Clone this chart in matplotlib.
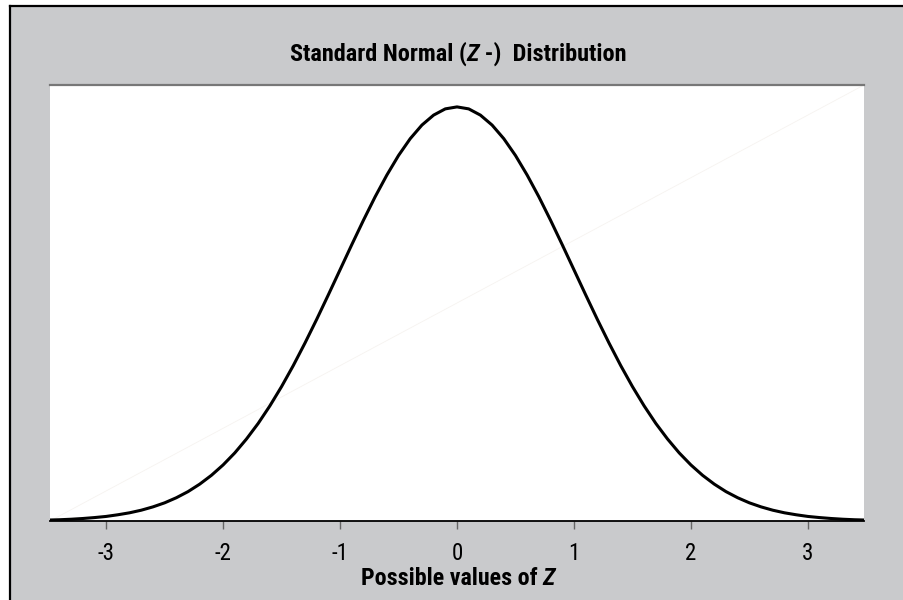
import os
import matplotlib
matplotlib.use("Agg")
import matplotlib.pyplot as plt
from matplotlib import font_manager
from matplotlib.font_manager import FontProperties
from matplotlib.patches import Rectangle
from matplotlib.lines import Line2D

# ---- data ----
z_values = [-3.5, -3.4, -3.3, -3.2, -3.1, -3.0, -2.9, -2.8, -2.7, -2.6, -2.5,
            -2.4, -2.3, -2.2, -2.1, -2.0, -1.9, -1.8, -1.7, -1.6, -1.5,
            -1.4, -1.3, -1.2, -1.1, -1.0, -0.9, -0.8, -0.7, -0.6, -0.5,
            -0.4, -0.3, -0.2, -0.1, 0.0, 0.1, 0.2, 0.3, 0.4, 0.5,
            0.6, 0.7, 0.8, 0.9, 1.0, 1.1, 1.2, 1.3, 1.4, 1.5,
            1.6, 1.7, 1.8, 1.9, 2.0, 2.1, 2.2, 2.3, 2.4, 2.5,
            2.6, 2.7, 2.8, 2.9, 3.0, 3.1, 3.2, 3.3, 3.4, 3.5]
density = [0.0009, 0.0012, 0.0017, 0.0024, 0.0033, 0.0044, 0.0060, 0.0079, 0.0104, 0.0136, 0.0175,
           0.0224, 0.0283, 0.0355, 0.0440, 0.0540, 0.0656, 0.0790, 0.0940, 0.1109, 0.1295,
           0.1497, 0.1714, 0.1942, 0.2179, 0.2420, 0.2661, 0.2897, 0.3123, 0.3332, 0.3521,
           0.3683, 0.3814, 0.3910, 0.3970, 0.3989, 0.3970, 0.3910, 0.3814, 0.3683, 0.3521,
           0.3332, 0.3123, 0.2897, 0.2661, 0.2420, 0.2179, 0.1942, 0.1714, 0.1497, 0.1295,
           0.1109, 0.0940, 0.0790, 0.0656, 0.0540, 0.0440, 0.0355, 0.0283, 0.0224, 0.0175,
           0.0136, 0.0104, 0.0079, 0.0060, 0.0044, 0.0033, 0.0024, 0.0017, 0.0012, 0.0009]
tick_values = [-3, -2, -1, 0, 1, 2, 3]
tick_labels = ["-3", "-2", "-1", "0", "1", "2", "3"]
title_parts = [("Standard Normal (", False), ("Z", True), (" -)  Distribution", False)]
xlabel_parts = [("Possible values of ", False), ("Z", True)]

# ---- fonts: prefer a condensed sans ----
files = [f.fname for f in font_manager.fontManager.ttflist]


def pick(name):
    for fn in files:
        if os.path.basename(fn).lower() == name.lower():
            return fn
    return None


sets = [
    ("RobotoCondensed-Regular.ttf", "RobotoCondensed-Bold.ttf", "RobotoCondensed-BoldItalic.ttf"),
    ("LiberationSansNarrow-Regular.ttf", "LiberationSansNarrow-Bold.ttf", "LiberationSansNarrow-BoldItalic.ttf"),
    ("DejaVuSansCondensed.ttf", "DejaVuSansCondensed-Bold.ttf", "DejaVuSansCondensed-BoldOblique.ttf"),
    ("LiberationSans-Regular.ttf", "LiberationSans-Bold.ttf", "LiberationSans-BoldItalic.ttf"),
]
reg_f = bold_f = boldit_f = None
for r, b, bi in sets:
    fr, fb, fbi = pick(r), pick(b), pick(bi)
    if fr and fb and fbi:
        reg_f, bold_f, boldit_f = fr, fb, fbi
        break


def fp(fname, size):
    if fname:
        return FontProperties(fname=fname, size=size)
    return FontProperties(family="DejaVu Sans", size=size)


W, H = 904, 600
fig = plt.figure(figsize=(W / 100, H / 100), dpi=100)
fig.patch.set_facecolor("white")

gray = "#c9cacc"
fig.patches.append(Rectangle((10 / W, 0), 1 - 10 / W, 1 - 6 / H, transform=fig.transFigure,
                             facecolor=gray, edgecolor="none", zorder=-5))
fig.lines.append(Line2D([10 / W, 10 / W], [0, 1 - 6 / H], transform=fig.transFigure,
                        color="black", lw=1.6, zorder=-4))
fig.lines.append(Line2D([10 / W, 1], [1 - 6 / H, 1 - 6 / H], transform=fig.transFigure,
                        color="black", lw=1.6, zorder=-4))

left, right = 50 / W, 864 / W
bottom, top = 1 - 521 / H, 1 - 85 / H
ax = fig.add_axes([left, bottom, right - left, top - bottom])
ax.set_zorder(5)
ax.set_facecolor("white")

ax.plot(z_values, density, color="black", lw=2.2, solid_joinstyle="round", zorder=3)
ax.plot([0, 1], [0, 1], transform=ax.transAxes, color="#f6f3f0", lw=0.6, zorder=2)

ax.set_xlim(-3.48, 3.48)
ax.set_ylim(0, 0.42)
ax.set_yticks([])
ax.set_xticks(tick_values)
ax.set_xticklabels(tick_labels, fontproperties=fp(reg_f, 16.5))
ax.tick_params(axis="x", direction="out", length=6, width=1, color="#666666",
               pad=9, labelcolor="black")

for s in ["left", "right"]:
    ax.spines[s].set_visible(False)
ax.spines["top"].set_color("#777777")
ax.spines["top"].set_linewidth(1.6)
ax.spines["bottom"].set_color("black")
ax.spines["bottom"].set_linewidth(1.3)


def rich_text(parts, xc, yc, size):
    renderer = fig.canvas.get_renderer()
    texts = []
    for s, it in parts:
        t = fig.text(0, yc, s, ha="left", va="baseline",
                     fontproperties=fp(boldit_f if it else bold_f, size))
        texts.append(t)
    widths = [t.get_window_extent(renderer).width for t in texts]
    total = sum(widths)
    x = xc * W - total / 2
    for t, w in zip(texts, widths):
        t.set_x(x / W)
        x += w


rich_text(title_parts, 458 / W, 1 - 61 / H, 17.5)
rich_text(xlabel_parts, 458 / W, 1 - 585 / H, 17.3)

fig.savefig("out.png", dpi=100, facecolor=fig.get_facecolor())
